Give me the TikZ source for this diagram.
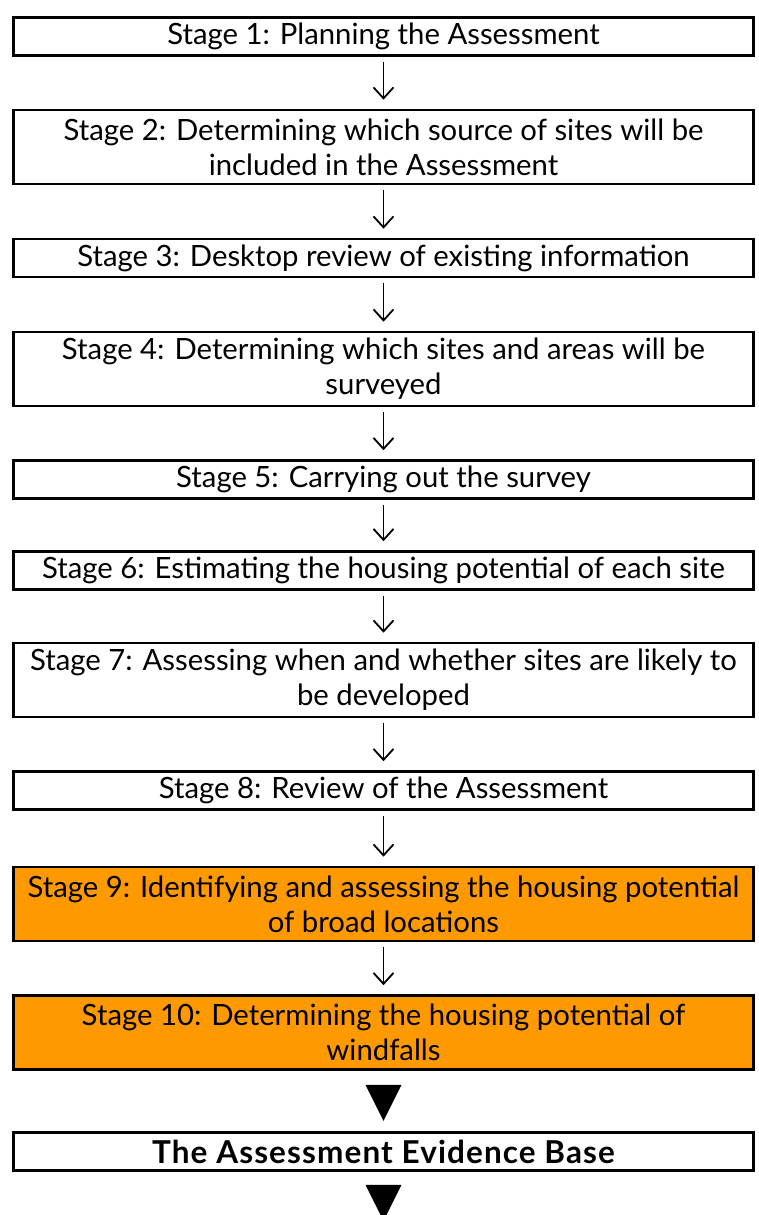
\documentclass[tikz,border=0pt]{standalone}
\usepackage{fontspec}
\setmainfont{Lato}
\usetikzlibrary{arrows.meta,calc}
\definecolor{stageorange}{RGB}{255,153,0}
\begin{document}
\begin{tikzpicture}[x=1pt,y=-1pt,
  stagebox/.style={draw=black,line width=2.6pt,fill=white,minimum width=740pt,
    inner sep=0pt,align=center,font=\fontsize{29.3}{35}\selectfont},
  onebox/.style={stagebox,minimum height=38pt},
  twobox/.style={stagebox,minimum height=74pt},
  hot/.style={fill=stageorange},
  flow/.style={line width=1.8pt,-{Straight Barb[length=11pt,width=20pt,line width=1.8pt]},
    shorten <=5pt,shorten >=9pt},
  bigtip/.style={fill=black}]
\useasboundingbox (0,0) rectangle (758,1215);
\fill[white] (0,0) rectangle (758,1215);

\node[onebox] (s1) at (383.5,36.5) {Stage 1: Planning the Assessment};
\node[twobox] (s2) at (383.5,147) {Stage 2: Determining which source of sites will be\\included in the Assessment};
\node[onebox] (s3) at (383.5,258) {Stage 3: Desktop review of existing information};
\node[twobox] (s4) at (383.5,369) {Stage 4: Determining which sites and areas will be\\surveyed};
\node[onebox] (s5) at (383.5,479.5) {Stage 5: Carrying out the survey};
\node[onebox] (s6) at (383.5,570.5) {Stage 6: Estimating the housing potential of each site};
\node[twobox] (s7) at (383.5,680) {Stage 7: Assessing when and whether sites are likely to\\be developed};
\node[onebox] (s8) at (383.5,790.5) {Stage 8: Review of the Assessment};
\node[twobox,hot] (s9) at (383.5,904) {Stage 9: Identifying and assessing the housing potential\\of broad locations};
\node[twobox,hot] (s10) at (383.5,1032.5) {Stage 10: Determining the housing potential of\\windfalls};
\node[onebox] (base) at (383.5,1151.5) {\fontsize{31.5}{35}\selectfont\bfseries\addfontfeatures{LetterSpace=3.5}The Assessment Evidence Base};

\foreach \a/\b in {s1/s2,s2/s3,s3/s4,s4/s5,s5/s6,s6/s7,s7/s8,s8/s9,s9/s10}
  \draw[flow] (\a.south) -- (\b.north);

% solid downward triangles below stage 10 and below the evidence base
\fill[bigtip] ($(s10.south)+(-18,14)$) -- ($(s10.south)+(18,14)$)
  -- ($(s10.south)+(0,50)$) -- cycle;
\fill[bigtip] ($(base.south)+(-18,13)$) -- ($(base.south)+(18,13)$)
  -- ($(base.south)+(0,49)$) -- cycle;
\end{tikzpicture}
\end{document}
